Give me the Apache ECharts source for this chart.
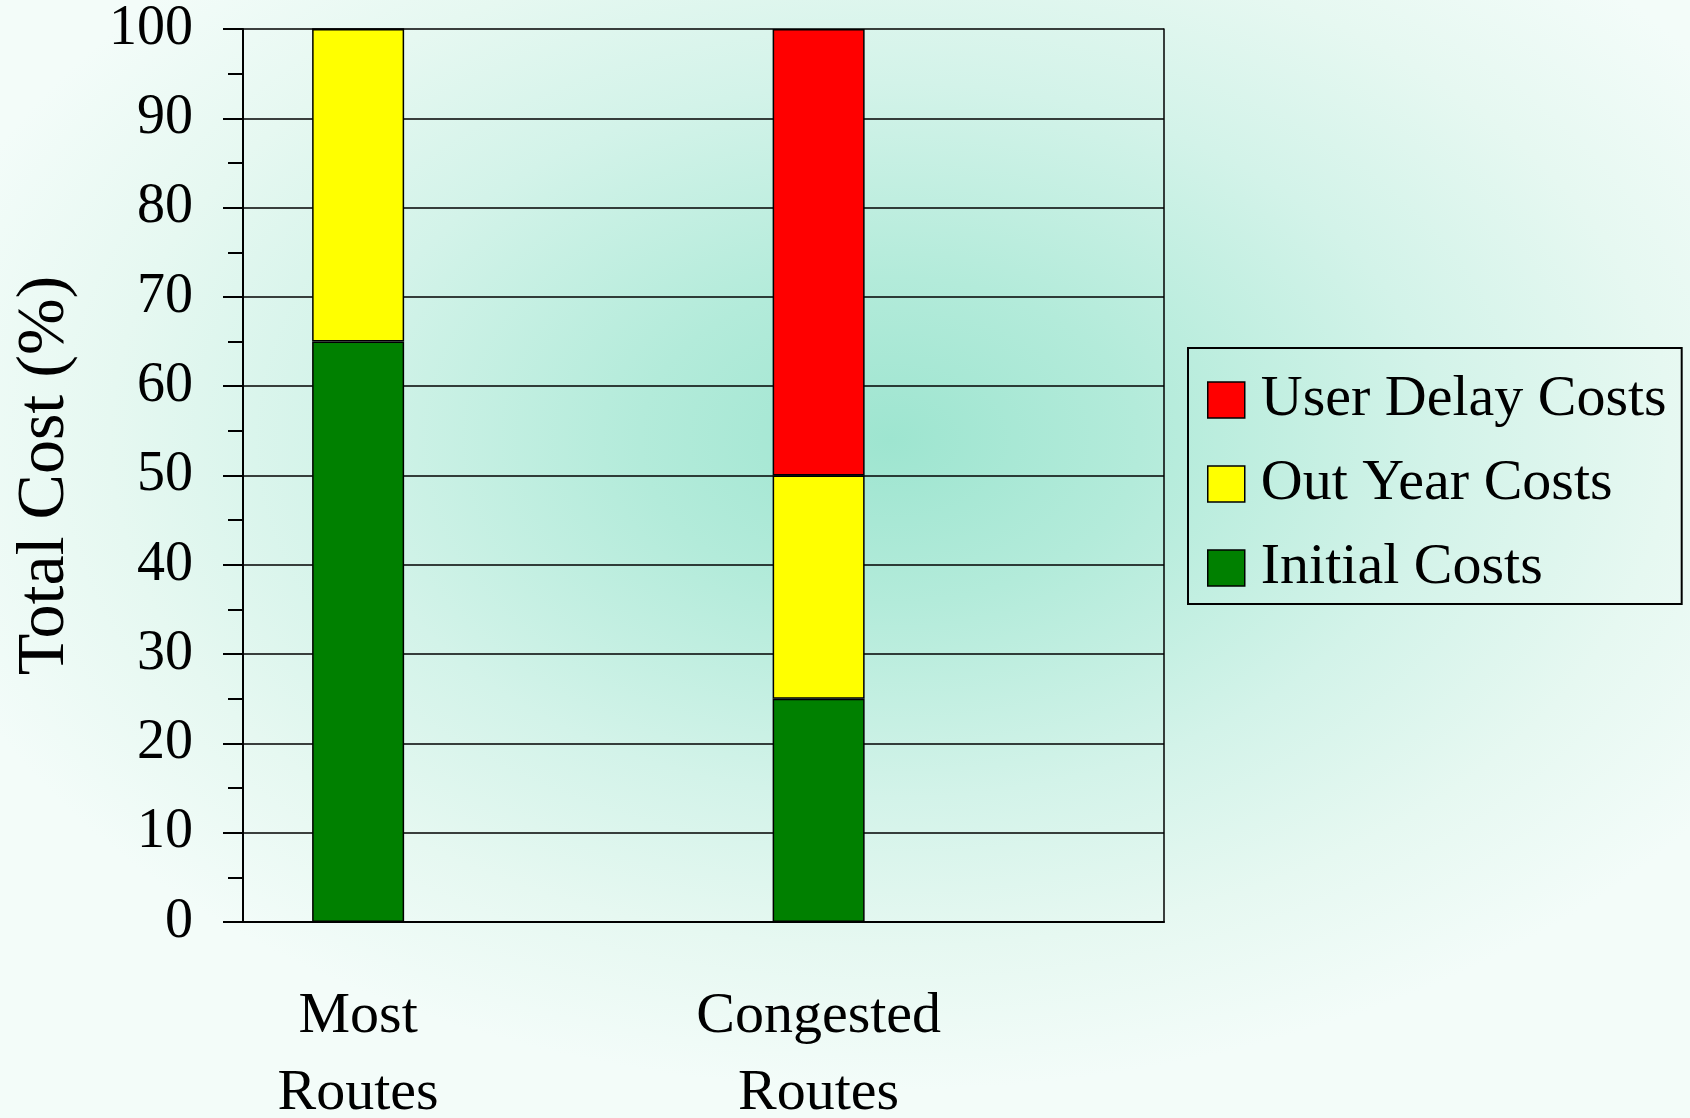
<!DOCTYPE html>
<html>
<head>
<meta charset="utf-8">
<title>Total Cost (%)</title>
<script src="https://cdn.jsdelivr.net/npm/echarts@6/dist/echarts.min.js"></script>
<style>
  html, body { margin: 0; padding: 0; }
  body {
    width: 1690px; height: 1118px; overflow: hidden;
    background: radial-gradient(ellipse 1000px 650px at 890px 440px,
      #9ee5d0 0%, #b3ebda 25%, #d3f3e9 55%, #e6f8f1 78%, #f3fcf9 100%);
  }
  #chart { width: 1690px; height: 1118px; }
</style>
</head>
<body>
<div id="chart"></div>
<script>
// Route groups and their cost shares (percent of total cost)
const categories = ['Most\nRoutes', 'Congested\nRoutes'];
const initialCosts = [65, 25];
const outYearCosts = [35, 25];
const userDelayCosts = [0, 50];
const yTicks = [0, 10, 20, 30, 40, 50, 60, 70, 80, 90, 100];

const FONT = '"Liberation Serif", "Times New Roman", serif';

// Each group sits in the left half of a double-width slot, leaving a blank slot after it
const slots = [];
categories.forEach(c => { slots.push(c, ''); });
const spread = arr => {
  const out = [];
  arr.forEach(v => { out.push(v, '-'); });
  return out;
};

const chart = echarts.init(document.getElementById('chart'), null, { renderer: 'canvas' });

const barBase = {
  type: 'bar',
  stack: 'total',
  barWidth: 92,
  emphasis: { disabled: true }
};

chart.setOption({
  backgroundColor: 'transparent',
  animation: false,
  textStyle: { fontFamily: FONT },
  grid: {
    left: 243, top: 29, right: 526, bottom: 196,
    containLabel: false,
    outerBoundsMode: 'none'
  },
  legend: {
    orient: 'vertical',
    left: 1188,
    top: 348,
    data: ['User Delay Costs', 'Out Year Costs', 'Initial Costs'],
    icon: 'rect',
    itemWidth: 37,
    itemHeight: 36,
    itemGap: 26,
    padding: [23, 15, 7, 19],
    borderColor: '#000',
    borderWidth: 2,
    backgroundColor: 'transparent',
    selectedMode: false,
    itemStyle: { borderColor: '#000', borderWidth: 1.5 },
    textStyle: {
      fontFamily: FONT,
      fontSize: 58,
      color: '#000',
      padding: [0, 0, 0, 11]
    }
  },
  xAxis: {
    type: 'category',
    data: slots,
    boundaryGap: true,
    axisLine: { show: true, lineStyle: { color: '#000', width: 2 } },
    axisTick: { show: false },
    axisLabel: {
      interval: 0,
      margin: 56,
      fontFamily: FONT,
      fontSize: 58,
      lineHeight: 77,
      color: '#000'
    },
    splitLine: { show: false }
  },
  yAxis: [
    {
      type: 'value',
      min: yTicks[0],
      max: yTicks[yTicks.length - 1],
      interval: yTicks[1] - yTicks[0],
      name: 'Total Cost (%)',
      nameLocation: 'middle',
      nameGap: 164,
      nameTextStyle: { fontFamily: FONT, fontSize: 68, color: '#000' },
      axisLine: { show: true, lineStyle: { color: '#000', width: 2 } },
      axisTick: { show: true, inside: false, length: 20, lineStyle: { color: '#000', width: 2 } },
      minorTick: { show: true, splitNumber: 2, length: 15, lineStyle: { color: '#000', width: 2 } },
      axisLabel: { margin: 50, fontFamily: FONT, fontSize: 56, color: '#000' },
      splitLine: { show: true, lineStyle: { color: '#000', width: 1.5 } }
    },
    {
      type: 'value',
      position: 'right',
      min: yTicks[0],
      max: yTicks[yTicks.length - 1],
      interval: yTicks[1] - yTicks[0],
      axisLine: { show: true, lineStyle: { color: '#000', width: 1.5 } },
      axisTick: { show: false },
      axisLabel: { show: false },
      splitLine: { show: false }
    }
  ],
  series: [
    Object.assign({}, barBase, { name: 'Initial Costs', data: spread(initialCosts), itemStyle: { color: '#008000', borderColor: '#000', borderWidth: 1.5 } }),
    Object.assign({}, barBase, { name: 'Out Year Costs', data: spread(outYearCosts), itemStyle: { color: '#FFFF00', borderColor: '#000', borderWidth: 1.5 } }),
    Object.assign({}, barBase, { name: 'User Delay Costs', data: spread(userDelayCosts), itemStyle: { color: '#FF0000', borderColor: '#000', borderWidth: 1.5 } })
  ]
});
</script>
</body>
</html>
